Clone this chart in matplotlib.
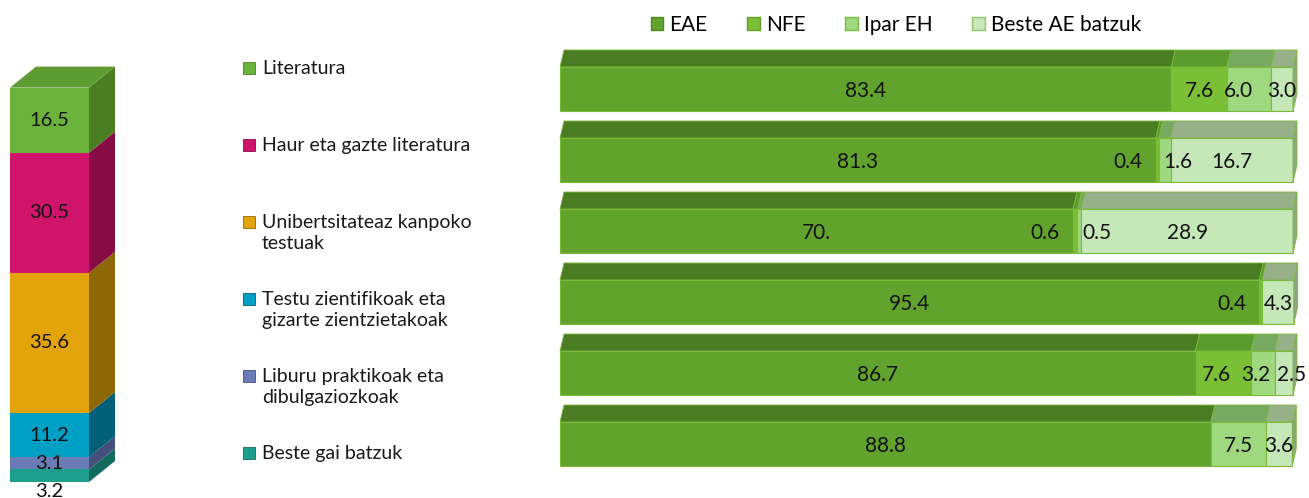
import matplotlib
matplotlib.use('Agg')
import matplotlib.pyplot as plt
from matplotlib.patches import Polygon, Rectangle, Patch

plt.rcParams['font.family'] = ['Lato', 'DejaVu Sans']

# --- data ---
categories = ['Literatura', 'Haur eta gazte literatura',
              'Unibertsitateaz kanpoko\ntestuak',
              'Testu zientifikoak eta\ngizarte zientzietakoak',
              'Liburu praktikoak eta\ndibulgaziozkoak', 'Beste gai batzuk']
share = [16.5, 30.5, 35.6, 11.2, 3.1, 3.2]          # left column, top -> bottom
cat_colors = ['#6cb33e', '#d0146b', '#e3a30a', '#00a0c4', '#6a7cb5', '#1e9e8c']
cat_sides = ['#4b7d23', '#870c45', '#8f6806', '#006078', '#454f7b', '#136a5e']

series = ['EAE', 'NFE', 'Ipar EH', 'Beste AE batzuk']
eae = [83.4, 81.3, 70.0, 95.4, 86.7, 88.8]
nfe = [7.6, 0.4, 0.6, 0.4, 7.6, 0.0]
ipar = [6.0, 1.6, 0.5, 0.0, 3.2, 7.5]
beste = [3.0, 16.7, 28.9, 4.3, 2.5, 3.6]
label_override = {(2, 0): '70.'}          # (row, series): text as printed
label_nudge = {(0, 2): -1.4, (4, 1): -0.9, (4, 2): -1.0, (4, 3): 1.0}

front_colors = ['#62a32e', '#7abf36', '#a0d880', '#c6e8b9']
top_colors = ['#4a7c23', '#5b9a2c', '#78a962', '#97b08a']
side_color = '#8aa87c'
legend_edges = ['#4f8a24', '#5e9e2a', '#7ab84a', '#8ec66a']
edge = '#7dba3a'

W, H = 1309, 498
fig = plt.figure(figsize=(W / 100, H / 100), dpi=100)


def fx(px):
    return px / W


def fy(py):
    return 1 - py / H


# --- left 3D column ---
axc = fig.add_axes([fx(10), fy(482), fx(79), 394 / H])
axc.set_xlim(0, 1)
axc.set_ylim(0, 100)
axc.axis('off')
cdx, cdy = 26 / 79, 21 / 3.94
bottom = 0.0
for i in reversed(range(len(share))):
    v = share[i]
    y0, y1 = bottom, bottom + v
    axc.add_patch(Rectangle((0, y0), 1, v, facecolor=cat_colors[i],
                            edgecolor='none', clip_on=False))
    axc.add_patch(Polygon([(1, y0), (1 + cdx, y0 + cdy), (1 + cdx, y1 + cdy), (1, y1)],
                          facecolor=cat_sides[i], edgecolor='none', clip_on=False))
    ty = (y0 + y1) / 2
    if i == len(share) - 1:
        ty -= 4.0
    axc.text(0.5, ty, f'{v:.1f}', ha='center', va='center', fontsize=14.5,
             color='#111111', clip_on=False)
    bottom = y1
axc.add_patch(Polygon([(0, bottom), (1, bottom), (1 + cdx, bottom + cdy), (cdx, bottom + cdy)],
                      facecolor='#5e9b31', edgecolor='none', clip_on=False))

# --- category legend ---
for i, name in enumerate(categories):
    py = 69 + 77 * i
    fig.patches.append(Rectangle((fx(243), fy(py + 5)), fx(12), 12 / H,
                                 transform=fig.transFigure, facecolor=cat_colors[i],
                                 edgecolor=cat_sides[i], linewidth=0.6))
    fig.text(fx(262), fy(py - 9), name, ha='left', va='top', fontsize=14,
             color='#1a1a1a', linespacing=1.3)

# --- 3D stacked bars ---
ax = fig.add_axes([fx(560), fy(480), fx(733), 440 / H])
ax.set_xlim(0, 100)
ax.set_ylim(5.507, -0.69)
ax.axis('off')
bh = 44 / 71
dx, dy = 4 / 7.33, 17 / 71
data = [eae, nfe, ipar, beste]
for r in range(len(eae)):
    yt, yb = r - bh / 2, r + bh / 2
    left = 0.0
    for s, vals in enumerate(data):
        v = vals[r]
        if v <= 0:
            continue
        ax.add_patch(Rectangle((left, yt), v, bh, facecolor=front_colors[s],
                               edgecolor=edge, linewidth=0.8, clip_on=False))
        ax.add_patch(Polygon([(left, yt), (left + v, yt), (left + v + dx, yt - dy), (left + dx, yt - dy)],
                             facecolor=top_colors[s], edgecolor=edge, linewidth=0.6,
                             clip_on=False))
        txt = label_override.get((r, s), f'{v:.1f}')
        ty = r + 0.03
        if s == 1 and v < 1:
            ax.text(left - 1.8, ty, txt, ha='right', va='center', fontsize=15, color='#111111')
        elif s == 2 and v < 2:
            ax.text(left + 0.6, ty, txt, ha='left', va='center', fontsize=15, color='#111111')
        else:
            ax.text(left + v / 2 + label_nudge.get((r, s), 0), ty, txt, ha='center',
                    va='center', fontsize=15, color='#111111', clip_on=False)
        left += v
    ax.add_patch(Polygon([(left, yt), (left + dx, yt - dy), (left + dx, yb - dy), (left, yb)],
                         facecolor=side_color, edgecolor=edge, linewidth=0.6, clip_on=False))

# --- series legend ---
handles = [Patch(facecolor=front_colors[s], edgecolor=legend_edges[s], linewidth=1.0)
           for s in range(len(series))]
fig.legend(handles, series, loc='center', bbox_to_anchor=(fx(896), fy(25)), ncol=4,
           frameon=False, fontsize=15, handlelength=0.6, handleheight=0.6,
           handletextpad=0.3, columnspacing=1.9, borderpad=0, borderaxespad=0)

fig.savefig('out.png', dpi=100)
